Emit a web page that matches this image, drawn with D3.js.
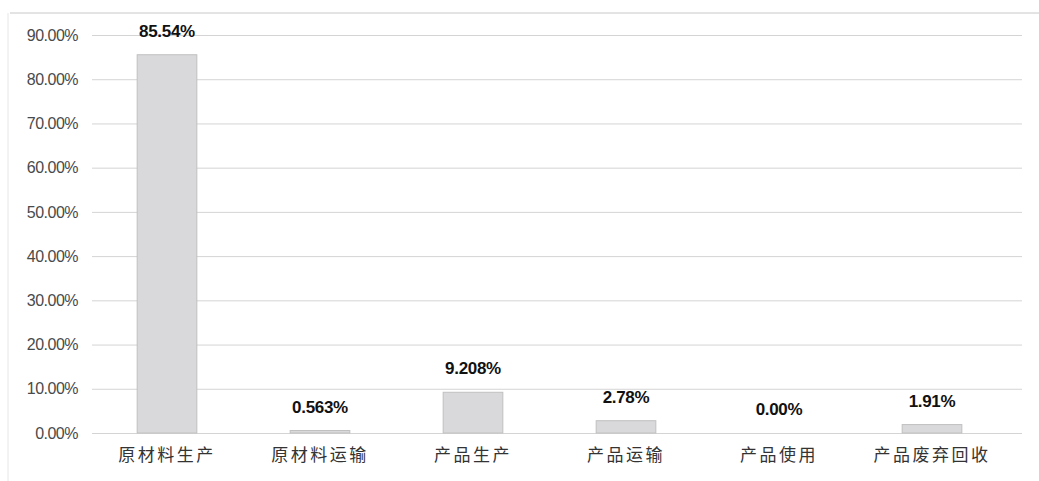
<!DOCTYPE html>
<html><head><meta charset="utf-8">
<script src="https://cdn.jsdelivr.net/npm/d3@7"></script>
<style>body{margin:0;background:#fff;}</style>
</head><body>
<svg id="c" width="1039" height="481"></svg>
<script>
const categories = ["原材料生产","原材料运输","产品生产","产品运输","产品使用","产品废弃回收"];
const values = [85.54, 0.563, 9.208, 2.78, 0.00, 1.91];
const valueLabels = ["85.54%","0.563%","9.208%","2.78%","0.00%","1.91%"];
const yTicks = [0,10,20,30,40,50,60,70,80,90];

const svg = d3.select("#c");
const W = 1039, H = 481;
const gridLeft = 92, gridRight = 1022;

// chart border
svg.append("line").attr("x1",10).attr("x2",W).attr("y1",13).attr("y2",13)
  .attr("stroke","#c8c8c8").attr("stroke-width",1);
svg.append("line").attr("x1",8).attr("x2",8).attr("y1",13).attr("y2",H)
  .attr("stroke","#e6e6e6").attr("stroke-width",1);

const x = d3.scaleBand().domain(categories).range([90.5, 1008.5]).paddingInner(0.61).paddingOuter(0.305);
const y = d3.scaleLinear().domain([0,90]).range([433, 35]);

// grid
const yAxis = d3.axisLeft(y).tickValues(yTicks).tickSize(-(gridRight-gridLeft)).tickPadding(14)
  .tickFormat(d => d3.format(".2f")(d) + "%");
const ga = svg.append("g").attr("transform",`translate(${gridLeft},0)`).call(yAxis);
ga.select(".domain").remove();
ga.selectAll(".tick line").attr("stroke","#d4d4d4").attr("stroke-width",1);
ga.selectAll(".tick text").attr("fill","#4a4a4a").style("font-family","'Liberation Sans', Arial, sans-serif")
  .style("font-size","16px").style("letter-spacing","-0.5px");

// bars
svg.selectAll("rect.bar").data(values).enter().append("rect")
  .attr("class","bar")
  .attr("x",(d,i)=>x(categories[i]))
  .attr("width",x.bandwidth())
  .attr("y",d=>y(d))
  .attr("height",d=>y(0)-y(d))
  .attr("fill","#d9d9db")
  .attr("stroke","#c0c0c0").attr("stroke-width",1);

// value labels
svg.selectAll("text.vl").data(values).enter().append("text")
  .attr("class","vl")
  .attr("x",(d,i)=>x(categories[i])+x.bandwidth()/2)
  .attr("y",d=>y(d)-18)
  .attr("text-anchor","middle")
  .attr("fill","#111")
  .style("font-family","'Liberation Sans', Arial, sans-serif")
  .style("font-weight","bold").style("font-size","17px")
  .style("letter-spacing","-0.3px")
  .text((d,i)=>valueLabels[i]);

// x axis
const xAxis = d3.axisBottom(x).tickSize(0).tickPadding(16);
const gx = svg.append("g").attr("transform",`translate(0,433)`).call(xAxis);
gx.select(".domain").remove();
gx.selectAll(".tick text").attr("fill","#333")
  .style("font-family","'Noto Sans CJK SC', sans-serif")
  .style("font-size","17px").style("letter-spacing","2.5px");
</script>
</body></html>
